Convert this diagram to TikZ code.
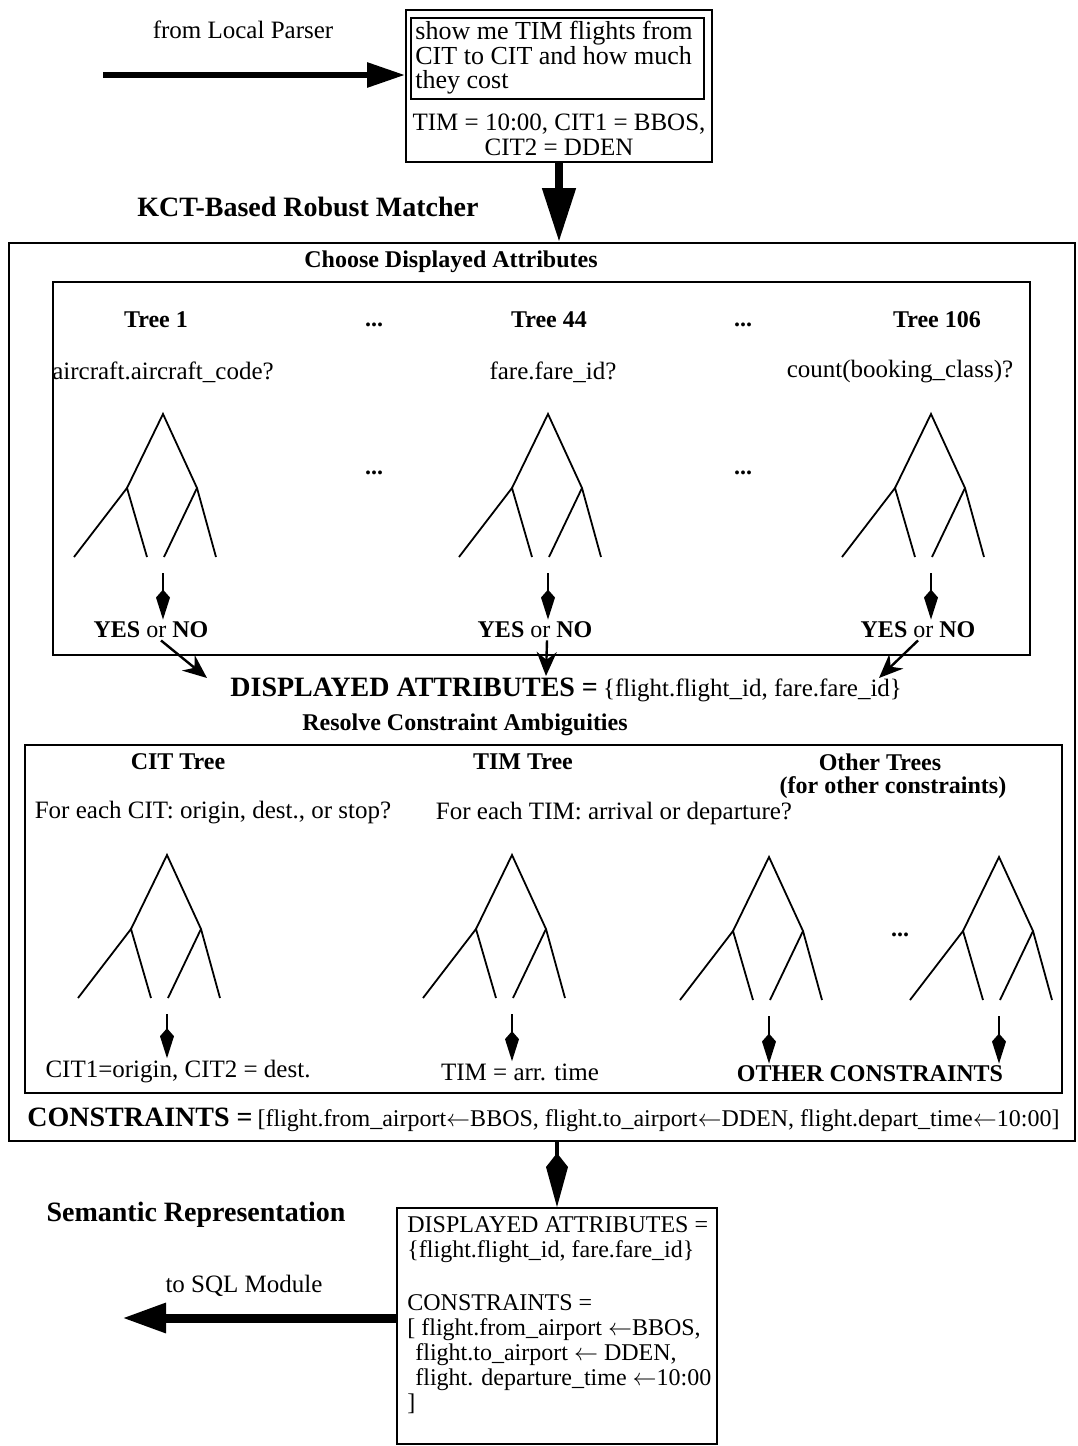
\documentclass[tikz,border=0pt]{standalone}
\usepackage{fontspec}
\setmainfont{Liberation Serif}
\usetikzlibrary{arrows.meta,fit,positioning}

\tikzset{
    boxline/.style={draw, line width=1pt, inner sep=0pt},
    heading/.style={font=\fontsize{14}{15}\selectfont\bfseries, inner sep=1pt},
    subhead/.style={font=\fontsize{12}{13}\selectfont\bfseries, inner sep=1pt},
    txt/.style={font=\fontsize{12.5}{12.5}\selectfont, inner sep=1pt},
    branch/.style={line width=0.9pt},
    fat right/.style={line width=3pt, -{Triangle[length=19pt,width=12pt]}},
    fat down/.style={line width=4pt, -{Triangle[length=27pt,width=16pt]}},
    fat left/.style={line width=4.5pt, -{Triangle[length=22pt,width=14pt]}},
    kite down/.style={line width=2pt, -{Kite[length=27pt,width=11pt,inset=7pt]}},
    leaf arrow/.style={line width=0.9pt, -{Kite[length=15pt,width=7pt,inset=4pt]}},
    join arrow/.style={line width=1.2pt, -{Stealth[length=12pt,width=10pt]}},
    % a two-level binary tree, root at the pic origin
    kct tree/.pic={
        \draw[branch] (-89,143) -- (-36,74) -- (-16,143);
        \draw[branch] (-36,74) -- (0,0) -- (34,74) -- (53,143);
        \draw[branch] (34,74) -- (1,143);
        \coordinate (-foot) at (0,159);
    },
}

\begin{document}
\begin{tikzpicture}[x=0.5pt, y=-0.5pt]
    \useasboundingbox (0,0) rectangle (1077,1446);

    % utterance coming in from the parser
    \node[txt] (parserlbl) at (243,30) {from Local Parser};
    \coordinate (parser) at (103,75);
    \node[boxline, fit={(406,10) (712,162)}] (query) {};
    \node[boxline, fit={(411,18) (704,99)}] (utter) {};
    \node[txt, anchor=north west, align=left, inner sep=0pt, font=\fontsize{13}{12.2}\selectfont] (uttertxt) at (415,21)
        {show me TIM flights from\\CIT to CIT and how much\\they cost};
    \node[txt, align=center] (slots) at (559,135) {TIM = 10:00, CIT1 = BBOS,\\CIT2 = DDEN};
    \draw[fat right] (parser) -- (parser -| query.west);

    % matcher
    \node[heading] (kct) at (308,207) {KCT-Based Robust Matcher};
    \node[boxline, fit={(9,243) (1075,1141)}] (matcher) {};
    \draw[fat down] (query.south) -- (query.south |- matcher.north);

    % displayed attribute trees
    \node[subhead] (choose) at (451,262) {Choose Displayed Attributes};
    \node[boxline, fit={(53,282) (1030,655)}] (attrbox) {};

    \node[subhead] (tree1) at (156,320) {Tree 1};
    \node[subhead] (tree44) at (549,320) {Tree 44};
    \node[subhead] (tree106) at (937,320) {Tree 106};
    \node[subhead] (dotsa) at (374,325) {...};
    \node[subhead] (dotsb) at (743,325) {...};
    \node[subhead] (dotsc) at (374,473) {...};
    \node[subhead] (dotsd) at (743,473) {...};

    \node[txt] (q1) at (163,372) {aircraft.aircraft\_code?};
    \node[txt] (q44) at (553,372) {fare.fare\_id?};
    \node[txt] (q106) at (900,372) {count(booking\_class)?};

    \pic (t1) at (163,414) {kct tree};
    \pic (t44) at (548,414) {kct tree};
    \pic (t106) at (931,414) {kct tree};

    \node[subhead] (yn1) at (151,630) {YES \mdseries or \bfseries NO};
    \node[subhead] (yn44) at (535,630) {YES \mdseries or \bfseries NO};
    \node[subhead] (yn106) at (918,630) {YES \mdseries or \bfseries NO};
    \draw[leaf arrow] (t1-foot) -- (t1-foot |- yn1.north);
    \draw[leaf arrow] (t44-foot) -- (t44-foot |- yn44.north);
    \draw[leaf arrow] (t106-foot) -- (t106-foot |- yn106.north);

    \node[anchor=west, inner sep=0pt] (dispattr) at (230,690)
        {{\fontsize{14}{14}\selectfont\bfseries DISPLAYED ATTRIBUTES =} {\fontsize{12.5}{12.5}\selectfont \{flight.flight\_id, fare.fare\_id\}}};
    \coordinate (in1) at (207,678);
    \coordinate (in44) at (546,676);
    \coordinate (in106) at (879,678);
    \draw[join arrow] ([xshift=5pt]yn1.south) -- (in1);
    \draw[join arrow] ([xshift=6pt]yn44.south) -- (in44);
    \draw[join arrow] (yn106.south) -- (in106);

    % constraint trees
    \node[subhead] (resolve) at (465,725) {Resolve Constraint Ambiguities};
    \node[boxline, fit={(25,745) (1062,1093)}] (consbox) {};

    \node[subhead] (citt) at (178,762) {CIT Tree};
    \node[subhead] (timt) at (523,762) {TIM Tree};
    \node[subhead] (othert) at (880,762) {Other Trees};
    \node[subhead] (otherfor) at (893,788) {(for other constraints)};
    \node[txt] (qcit) at (213,813) {For each CIT: origin, dest., or stop?};
    \node[txt] (qtim) at (614,813) {For each TIM: arrival or departure?};

    \pic (cit) at (167,855) {kct tree};
    \pic (tim) at (512,855) {kct tree};
    \pic (oth1) at (769,857) {kct tree};
    \pic (oth2) at (999,857) {kct tree};
    \node[subhead] (dotse) at (900,935) {...};

    \node[txt] (citres) at (178,1072) {CIT1=origin, CIT2 = dest.};
    \node[txt] (timres) at (520,1072) {TIM = arr. time};
    \node[subhead] (othres) at (870,1074) {OTHER CONSTRAINTS};
    \draw[leaf arrow] (cit-foot) -- (cit-foot |- citres.north);
    \draw[leaf arrow] (tim-foot) -- (tim-foot |- timres.north);
    \draw[leaf arrow] (oth1-foot) -- (oth1-foot |- othres.north);
    \draw[leaf arrow] (oth2-foot) -- (oth2-foot |- othres.north);

    \node[anchor=west, inner sep=0pt] (consline) at (27,1120)
        {{\fontsize{14}{14}\selectfont\bfseries CONSTRAINTS =} {\fontsize{12}{12}\selectfont [flight.from\_airport$\leftarrow$BBOS, flight.to\_airport$\leftarrow$DDEN, flight.depart\_time$\leftarrow$10:00]}};

    % resulting semantic representation
    \node[heading] (semlbl) at (196,1215) {Semantic Representation};
    \node[boxline, fit={(397,1208) (717,1444)}] (sem) {};
    \node[txt, anchor=north west, align=left, inner sep=0pt, font=\fontsize{12}{12.5}\selectfont] (semtxt) at (407,1216)
        {DISPLAYED ATTRIBUTES =\\\{flight.flight\_id, fare.fare\_id\}\\[14pt]
         CONSTRAINTS =\\
         {[} flight.from\_airport $\leftarrow$BBOS,\\
         \hspace*{4pt}flight.to\_airport $\leftarrow$ DDEN,\\
         \hspace*{4pt}flight. departure\_time $\leftarrow$10:00\\
         {]}};
    \draw[kite down] (sem.north |- matcher.south) -- (sem.north);

    \node[txt] (sqllbl) at (244,1286) {to SQL Module};
    \coordinate (sql) at (122,1318);
    \draw[fat left] ([yshift=4pt]sem.west) -- (sql);
\end{tikzpicture}
\end{document}
